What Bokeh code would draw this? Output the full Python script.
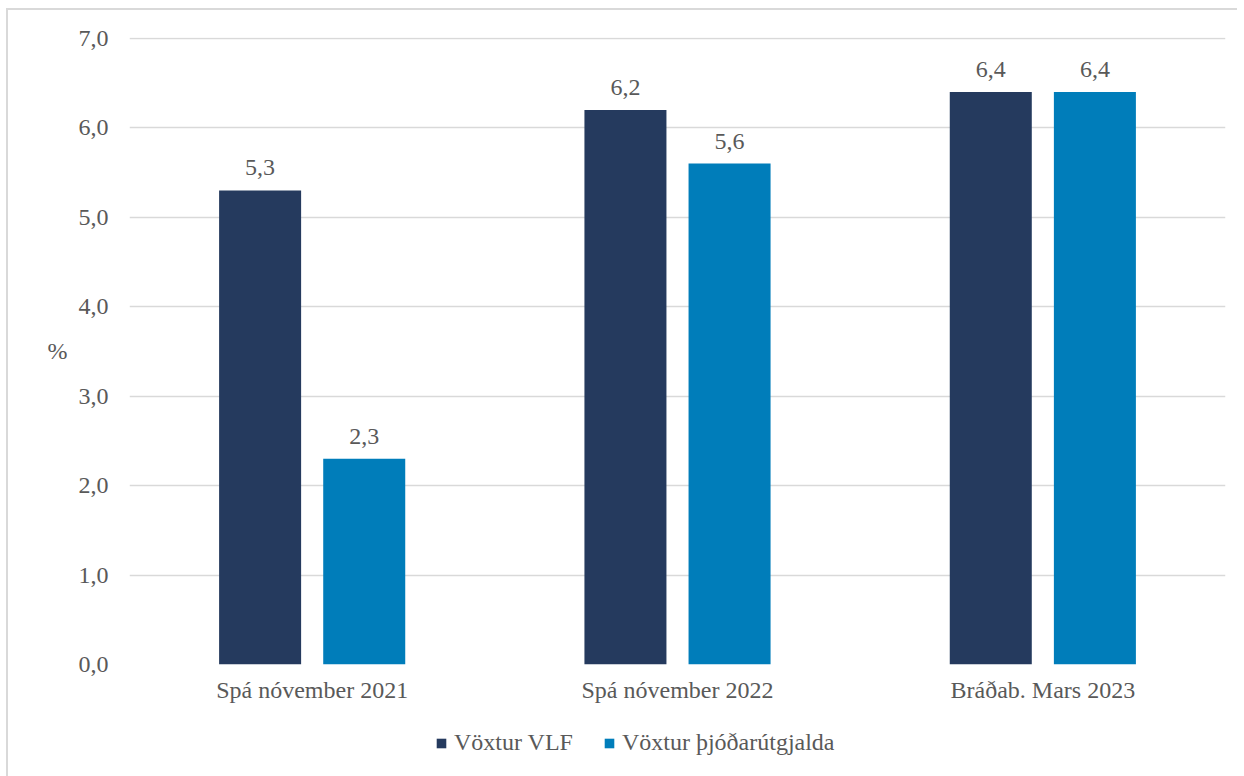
from bokeh.plotting import figure
from bokeh.layouts import column
from bokeh.models import (FactorRange, ColumnDataSource, LabelSet, Legend, LegendItem,
                          FixedTicker, CustomJSTickFormatter)
from bokeh.transform import dodge
from bokeh.embed import file_html
from bokeh.resources import INLINE

categories = ["Spá nóvember 2021", "Spá nóvember 2022", "Bráðab. Mars 2023"]
vlf = [5.3, 6.2, 6.4]
thjod = [2.3, 5.6, 6.4]
series_names = ["Vöxtur VLF", "Vöxtur þjóðarútgjalda"]
y_ticks = [0, 1, 2, 3, 4, 5, 6, 7]

FONT = "Liberation Serif"
TXT = "#595959"
C1 = "#253A5E"
C2 = "#007DBA"
FS = "24px"

src = ColumnDataSource(dict(
    cat=categories, vlf=vlf, thjod=thjod,
    vlf_lbl=[f"{v:.1f}".replace(".", ",") for v in vlf],
    thjod_lbl=[f"{v:.1f}".replace(".", ",") for v in thjod],
))

p = figure(x_range=FactorRange(factors=categories, range_padding=0), y_range=(0, 7.01),
           frame_width=1096, frame_height=627,
           min_border_left=121, min_border_top=27, min_border_right=12, min_border_bottom=56,
           output_backend="svg", toolbar_location=None)
p.outline_line_color = None

off = 0.1425
w = 0.2245
r1 = p.vbar(x=dodge("cat", -off, range=p.x_range), top="vlf", width=w, source=src,
            fill_color=C1, line_color=None)
r2 = p.vbar(x=dodge("cat", off, range=p.x_range), top="thjod", width=w, source=src,
            fill_color=C2, line_color=None)

for xs, col in [(-off, "vlf"), (off, "thjod")]:
    p.add_layout(LabelSet(x=dodge("cat", xs, range=p.x_range), y=col, text=col + "_lbl",
                          source=src, text_align="center", text_baseline="bottom",
                          y_offset=15, text_font=FONT, text_font_size=FS,
                          text_color=TXT))

p.xgrid.grid_line_color = None
p.ygrid.grid_line_color = "#d9d9d9"
p.ygrid.grid_line_width = 1.5
p.yaxis.ticker = FixedTicker(ticks=y_ticks)
p.yaxis.formatter = CustomJSTickFormatter(code="return tick.toFixed(1).replace('.', ',');")

for ax in (p.xaxis, p.yaxis):
    ax.axis_line_color = None
    ax.major_tick_line_color = None
    ax.minor_tick_line_color = None
    ax.major_label_text_font = FONT
    ax.major_label_text_font_size = FS
    ax.major_label_text_color = TXT
p.yaxis.major_label_standoff = 15
p.xaxis.major_label_standoff = 6
p.yaxis.axis_label = "%"
p.yaxis.axis_label_orientation = "horizontal"
p.yaxis.axis_label_text_font = FONT
p.yaxis.axis_label_text_font_size = FS
p.yaxis.axis_label_text_font_style = "normal"
p.yaxis.axis_label_text_color = TXT
p.yaxis.axis_label_standoff = 8

# legend strip (swatch renderers sit outside the strip's visible range)
lg = figure(width=1229, height=56, min_border=0, min_border_left=0, min_border_right=0,
            min_border_top=0, min_border_bottom=0, x_range=(-1, 0), y_range=(-1, 0),
            x_axis_type=None, y_axis_type=None,
            output_backend="svg", toolbar_location=None)
lg.outline_line_color = None
lg.grid.grid_line_color = None
d1 = lg.vbar(x="vlf", top="vlf", width=0.1, source=src, fill_color=C1, line_color=None)
d2 = lg.vbar(x="thjod", top="thjod", width=0.1, source=src, fill_color=C2, line_color=None)
legend = Legend(items=[LegendItem(label=series_names[0], renderers=[d1], index=0),
                       LegendItem(label=series_names[1], renderers=[d2], index=0)],
                orientation="horizontal", location=(306, 20),
                glyph_width=12, glyph_height=12, label_standoff=7, spacing=30,
                padding=0, margin=0, border_line_color=None, background_fill_alpha=0,
                label_text_font=FONT, label_text_font_size=FS, label_text_color=TXT)
lg.add_layout(legend, "center")

layout = column(p, lg, spacing=0,
                styles={"margin-left": "6px", "margin-top": "8px",
                        "border-left": "2px solid #d9d9d9",
                        "border-top": "2px solid #d9d9d9"})

open("out.html", "w").write(file_html(layout, INLINE))
